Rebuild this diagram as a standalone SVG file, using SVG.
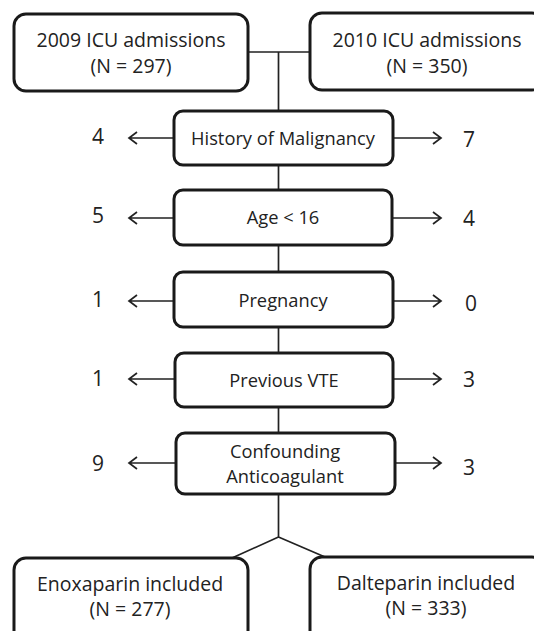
<svg xmlns="http://www.w3.org/2000/svg" width="534" height="631" viewBox="0 0 534 631">
<style>
.box{fill:#fff;stroke:#1a1a1a;stroke-width:3}
.ln{fill:none;stroke:#222;stroke-width:1.7}
.t{font-family:"Open Sans","DejaVu Sans",sans-serif;fill:#222;text-anchor:middle}
.big{font-size:19.5px}
.mid{font-size:18.3px}
.num{font-size:21px}
</style>
<rect width="534" height="631" fill="#fff"/>
<g id="connectors">
<path class="ln" d="M248 52 H310 M278.5 52 V111 M278.5 165 V190 M278.5 245 V272 M278.5 327 V353 M278.5 407 V433 M278.5 494 V537 L232 558 M278.5 537 L325 557"/>
<path class="ln" d="M174 138 H129 M137 132 L129 138 L137 144 M393 138 H441 M433 132 L441 138 L433 144"/>
<path class="ln" d="M174 218 H129 M137 212 L129 218 L137 224 M393 218 H441 M433 212 L441 218 L433 224"/>
<path class="ln" d="M174 301 H129 M137 295 L129 301 L137 307 M393 301 H441 M433 295 L441 301 L433 307"/>
<path class="ln" d="M174 379 H129 M137 373 L129 379 L137 385 M393 379 H441 M433 373 L441 379 L433 385"/>
<path class="ln" d="M176 463 H129 M137 457 L129 463 L137 469 M395 463 H441 M433 457 L441 463 L433 469"/>
</g>
<g id="n2009">
<rect class="box" x="14" y="14" width="234" height="77" rx="12"/>
<text class="t big" x="131" y="47">2009 ICU admissions</text>
<text class="t big" x="131" y="73">(N = 297)</text>
</g>
<g id="n2010">
<rect class="box" x="310" y="13" width="234" height="77" rx="12"/>
<text class="t big" x="427" y="47">2010 ICU admissions</text>
<text class="t big" x="427" y="73">(N = 350)</text>
</g>
<g id="malignancy">
<rect class="box" x="174" y="111" width="219" height="54" rx="9"/>
<text class="t mid" x="283" y="145">History of Malignancy</text>
<text class="t num" x="98" y="144">4</text>
<text class="t num" x="469" y="147">7</text>
</g>
<g id="age">
<rect class="box" x="174" y="190" width="218" height="55" rx="9"/>
<text class="t mid" x="283" y="224">Age &lt; 16</text>
<text class="t num" x="98" y="223">5</text>
<text class="t num" x="469" y="226">4</text>
</g>
<g id="pregnancy">
<rect class="box" x="174" y="272" width="219" height="55" rx="9"/>
<text class="t mid" x="283" y="307">Pregnancy</text>
<text class="t num" x="98" y="307">1</text>
<text class="t num" x="471" y="311">0</text>
</g>
<g id="vte">
<rect class="box" x="175" y="353" width="218" height="54" rx="9"/>
<text class="t mid" x="284" y="387">Previous VTE</text>
<text class="t num" x="98" y="386">1</text>
<text class="t num" x="469" y="387">3</text>
</g>
<g id="anticoag">
<rect class="box" x="176" y="433" width="219" height="61" rx="9"/>
<text class="t mid" x="285" y="458">Confounding</text>
<text class="t mid" x="285" y="483">Anticoagulant</text>
<text class="t num" x="98" y="471">9</text>
<text class="t num" x="469" y="475">3</text>
</g>
<g id="enoxaparin">
<rect class="box" x="14" y="558" width="234" height="90" rx="12"/>
<text class="t big" x="130" y="591">Enoxaparin included</text>
<text class="t big" x="130" y="616">(N = 277)</text>
</g>
<g id="dalteparin">
<rect class="box" x="310" y="557" width="234" height="90" rx="12"/>
<text class="t big" x="426" y="590">Dalteparin included</text>
<text class="t big" x="426" y="615">(N = 333)</text>
</g>
</svg>
